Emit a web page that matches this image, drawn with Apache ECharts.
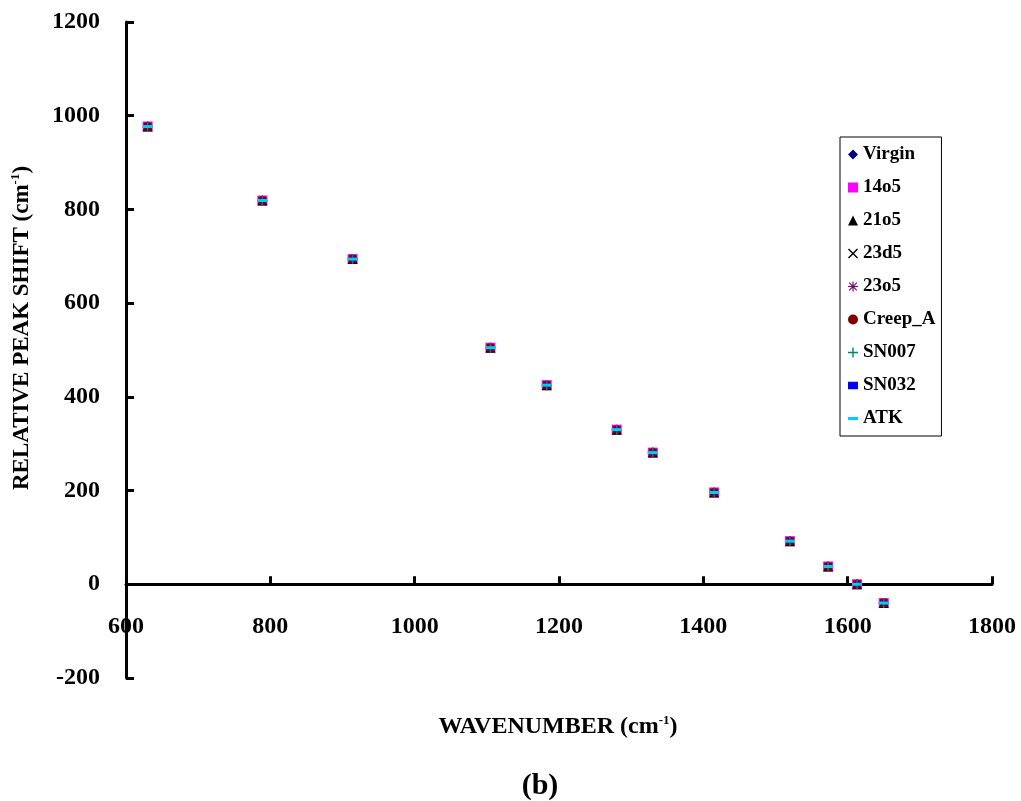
<!DOCTYPE html>
<html>
<head>
<meta charset="utf-8">
<script src="https://cdn.jsdelivr.net/npm/echarts@6/dist/echarts.min.js"></script>
<style>
  html, body { margin: 0; padding: 0; background: #fff; }
  #chart { width: 1021px; height: 801px; }
</style>
</head>
<body>
<div id="chart"></div>
<script>
// Wavenumbers of the tracked bands and their shift relative to the reference band
const wavenumbers = [630, 789, 914, 1105, 1183, 1280, 1330, 1415, 1520, 1573, 1613, 1650];
const peakShift   = [977, 819, 694, 505, 425, 330, 281, 196, 92, 38, 0, -40];

// Every sample lands on the same points
const sampleNames = ['Virgin', '14o5', '21o5', '23d5', '23o5', 'Creep_A', 'SN007', 'SN032', 'ATK'];
const sampleValues = {
  'Virgin':  peakShift,
  '14o5':    peakShift,
  '21o5':    peakShift,
  '23d5':    peakShift,
  '23o5':    peakShift,
  'Creep_A': peakShift,
  'SN007':   peakShift,
  'SN032':   peakShift,
  'ATK':     peakShift
};

const xTicks = [600, 800, 1000, 1200, 1400, 1600, 1800];
const yTicks = [-200, 0, 200, 400, 600, 800, 1000, 1200];

const CROSS = 'path://M0,1 L1,0 L5,4 L9,0 L10,1 L6,5 L10,9 L9,10 L5,6 L1,10 L0,9 L4,5 Z';
const PLUS = 'path://M4.3,0 H5.7 V4.3 H10 V5.7 H5.7 V10 H4.3 V5.7 H0 V4.3 H4.3 Z';
const STAR = 'path://M4.4,0 H5.6 V4.4 H10 V5.6 H5.6 V10 H4.4 V5.6 H0 V4.4 H4.4 Z M0.8,1.6 L1.6,0.8 L5,4.2 L8.4,0.8 L9.2,1.6 L5.8,5 L9.2,8.4 L8.4,9.2 L5,5.8 L1.6,9.2 L0.8,8.4 L4.2,5 Z';
const DASH = 'path://M0,0 H10 V3 H0 Z';
const SHORT_DASH = 'path://M0,0 H4 V3 H0 Z';

const styles = {
  'Virgin':  { symbol: 'diamond', size: 10, color: '#000080', icon: 'diamond' },
  '14o5':    { symbol: 'rect', size: 10, color: '#FF00FF', icon: 'rect' },
  '21o5':    { symbol: 'triangle', size: 10, color: '#000000', icon: 'triangle' },
  '23d5':    { symbol: CROSS, size: 8, color: '#000000', icon: CROSS },
  '23o5':    { symbol: STAR, size: 9, color: '#800080', icon: STAR },
  'Creep_A': { symbol: 'circle', size: 9, color: '#800000', icon: 'circle' },
  'SN007':   { symbol: PLUS, size: 10, color: '#008080', icon: PLUS },
  'SN032':   { symbol: DASH, size: [6, 3], color: '#0000FF', icon: SHORT_DASH },
  'ATK':     { symbol: DASH, size: [10, 3], color: '#00CCFF', icon: DASH }
};

const FONT = '"Liberation Serif", "Times New Roman", serif';

const series = sampleNames.map(name => ({
  name: name,
  type: 'scatter',
  symbol: styles[name].symbol,
  symbolSize: styles[name].size,
  itemStyle: { color: styles[name].color, opacity: 1 },
  data: wavenumbers.map((w, i) => [w, sampleValues[name][i]]),
  animation: false
}));

const plainNumber = v => String(v);

const chart = echarts.init(document.getElementById('chart'));
chart.setOption({
  backgroundColor: '#ffffff',
  animation: false,
  grid: { left: 126, top: 22, right: 29, bottom: 123, containLabel: false },
  xAxis: {
    type: 'value',
    min: xTicks[0],
    max: xTicks[xTicks.length - 1],
    interval: 200,
    axisLine: { onZero: true, lineStyle: { color: '#000', width: 3 } },
    axisTick: { inside: true, length: 8, lineStyle: { color: '#000', width: 3 } },
    axisLabel: { margin: -63, formatter: plainNumber, color: '#000', fontFamily: FONT, fontWeight: 'bold', fontSize: 24 },
    splitLine: { show: false }
  },
  yAxis: {
    type: 'value',
    min: yTicks[0],
    max: yTicks[yTicks.length - 1],
    interval: 200,
    axisLine: { show: true, onZero: false, lineStyle: { color: '#000', width: 3 } },
    axisTick: { show: true, inside: true, length: 8, lineStyle: { color: '#000', width: 3 } },
    axisLabel: { margin: 26, formatter: plainNumber, color: '#000', fontFamily: FONT, fontWeight: 'bold', fontSize: 24 },
    splitLine: { show: false }
  },
  legend: {
    orient: 'vertical',
    left: 840,
    top: 137,
    padding: [8, 6, 8, 8],
    borderColor: '#000',
    borderWidth: 1,
    itemWidth: 10,
    itemHeight: 10,
    itemGap: 14,
    symbolKeepAspect: true,
    textStyle: { color: '#000', fontFamily: FONT, fontWeight: 'bold', fontSize: 19, lineHeight: 19 },
    data: sampleNames.map(name => ({ name: name, icon: styles[name].icon }))
  },
  graphic: [
    {
      type: 'text',
      x: 558,
      y: 727,
      style: {
        rich: {
          a: { fontFamily: FONT, fontWeight: 'bold', fontSize: 24, fill: '#000' },
          s: { fontFamily: FONT, fontWeight: 'bold', fontSize: 13, fill: '#000', verticalAlign: 'top', padding: [0, 0, 12, 0] }
        },
        text: '{a|WAVENUMBER (cm}{s|-1}{a|)}',
        align: 'center',
        verticalAlign: 'middle'
      }
    },
    {
      type: 'text',
      x: 22,
      y: 328,
      rotation: Math.PI / 2,
      style: {
        rich: {
          a: { fontFamily: FONT, fontWeight: 'bold', fontSize: 23, fill: '#000' },
          s: { fontFamily: FONT, fontWeight: 'bold', fontSize: 13, fill: '#000', verticalAlign: 'top', padding: [0, 0, 12, 0] }
        },
        text: '{a|RELATIVE PEAK SHIFT (cm}{s|-1}{a|)}',
        align: 'center',
        verticalAlign: 'middle'
      }
    },
    {
      type: 'text',
      x: 540,
      y: 786,
      style: {
        text: '(b)',
        fontFamily: FONT,
        fontWeight: 'bold',
        fontSize: 30,
        fill: '#000',
        align: 'center',
        verticalAlign: 'middle'
      }
    }
  ],
  series: series
});
</script>
</body>
</html>
